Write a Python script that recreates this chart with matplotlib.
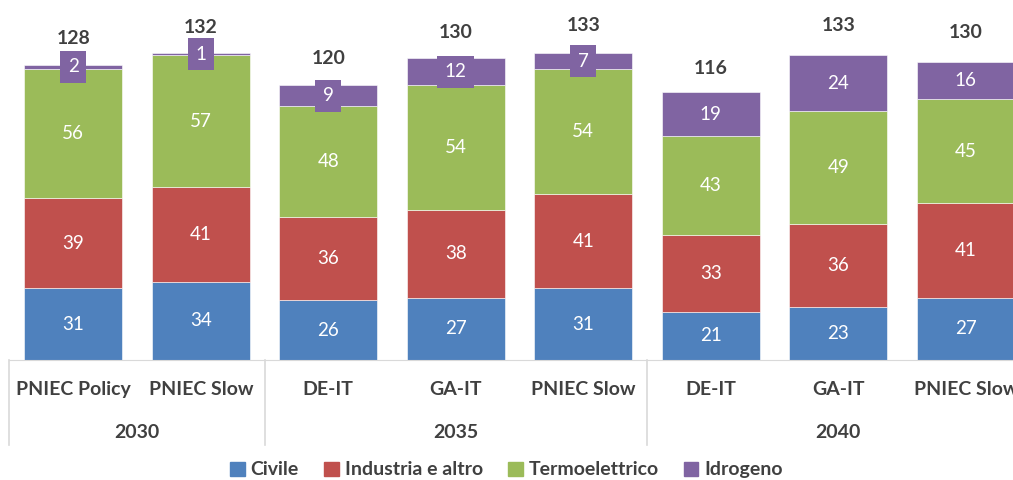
import matplotlib

matplotlib.use("Agg")
import matplotlib.pyplot as plt
from matplotlib.patches import Patch
from matplotlib.transforms import blended_transform_factory

plt.rcParams["font.family"] = ["Lato", "DejaVu Sans"]

# --- data (scenario demand by sector) ---
scenarios = ["PNIEC Policy", "PNIEC Slow", "DE-IT", "GA-IT", "PNIEC Slow",
             "DE-IT", "GA-IT", "PNIEC Slow"]
years = ["2030", "2035", "2040"]
year_span = [(0, 1), (2, 4), (5, 7)]
civile = [31, 34, 26, 27, 31, 21, 23, 27]
industria = [39, 41, 36, 38, 41, 33, 36, 41]
termo = [56, 57, 48, 54, 54, 43, 49, 45]
idrogeno = [2, 1, 9, 12, 7, 19, 24, 16]
totals = [128, 132, 120, 130, 133, 116, 133, 130]

BLUE = "#4f81bd"
RED = "#c0504d"
GREEN = "#9bbb59"
PURPLE = "#8064a2"
INK = "#404040"
RULE = "#d9d9d9"

series = [
    ("Civile", civile, BLUE),
    ("Industria e altro", industria, RED),
    ("Termoelettrico", termo, GREEN),
    ("Idrogeno", idrogeno, PURPLE),
]

fig = plt.figure(figsize=(10.13, 4.8), dpi=100)
ax = fig.add_axes([9.5 / 1013, 0.25, 1 - 9.5 / 1013, 0.75])

x = list(range(len(scenarios)))
bottom = [0] * len(x)
for name, vals, color in series:
    ax.bar(x, vals, width=0.77, bottom=bottom, color=color, label=name,
           edgecolor="white", linewidth=0.4)
    for i, v in enumerate(vals):
        yc = bottom[i] + v / 2
        kw = {}
        if color == PURPLE:
            # hydrogen labels get a filled box so the thin slices stay readable
            kw["bbox"] = dict(boxstyle="square,pad=0.4", fc=PURPLE, ec="none")
        ax.text(i, yc, f"{v}", ha="center", va="center", color="white",
                fontsize=13.5, **kw)
    bottom = [b + v for b, v in zip(bottom, vals)]

# totals sit above each stack
for i, t in enumerate(totals):
    ax.text(i, t * 1.09, f"{t}", ha="center", va="center", color=INK,
            fontsize=14, weight="bold")

ax.set_xlim(-0.5, 7.37)
ax.set_ylim(0, 156)
ax.set_xticks([])
ax.set_yticks([])
for s in ("top", "right", "left"):
    ax.spines[s].set_visible(False)
ax.spines["bottom"].set_color(RULE)

# two-level category axis
tr = blended_transform_factory(ax.transData, ax.transAxes)
for i, name in enumerate(scenarios):
    ax.text(i, -0.083, name, transform=tr, ha="center", va="center",
            color=INK, fontsize=14, weight="bold")
for yr, (a, b) in zip(years, year_span):
    ax.text((a + b) / 2, -0.2, yr, transform=tr, ha="center", va="center",
            color=INK, fontsize=14, weight="bold")
for xs in (-0.5, 1.5, 4.5):
    ax.plot([xs, xs], [0, -0.236], transform=tr, color=RULE, lw=1.2,
            clip_on=False)

handles = [Patch(color=c, label=n) for n, _, c in series]
leg = fig.legend(handles=handles, loc="center", bbox_to_anchor=(0.5, 0.021),
                 ncol=4, frameon=False, handlelength=0.75, handleheight=0.75,
                 handletextpad=0.3, columnspacing=1.3,
                 prop={"size": 14, "weight": "bold"})
for t in leg.get_texts():
    t.set_color(INK)

fig.savefig("out.png", dpi=100)
